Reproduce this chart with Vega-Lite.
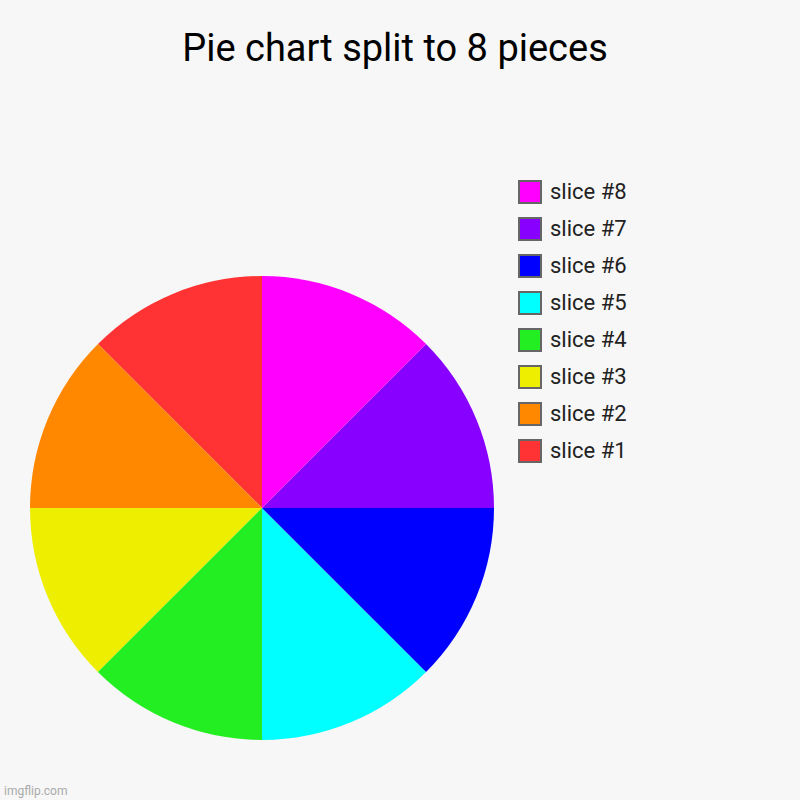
{
  "$schema": "https://vega.github.io/schema/vega-lite/v6.json",
  "width": 464,
  "height": 464,
  "autosize": "none",
  "padding": {"left": 30, "top": 276, "right": 306, "bottom": 60},
  "background": "#f7f7f7",
  "config": {"view": {"stroke": null}, "font": "Roboto"},
  "title": {
    "text": "Pie chart split to 8 pieces",
    "font": "Roboto",
    "fontSize": 38,
    "fontWeight": "normal",
    "color": "#000000",
    "anchor": "middle",
    "frame": "group",
    "dx": 133,
    "offset": 111
  },
  "data": {
    "values": [
      {"slice": "slice #1", "n": 1, "value": 1},
      {"slice": "slice #2", "n": 2, "value": 1},
      {"slice": "slice #3", "n": 3, "value": 1},
      {"slice": "slice #4", "n": 4, "value": 1},
      {"slice": "slice #5", "n": 5, "value": 1},
      {"slice": "slice #6", "n": 6, "value": 1},
      {"slice": "slice #7", "n": 7, "value": 1},
      {"slice": "slice #8", "n": 8, "value": 1}
    ]
  },
  "layer": [
    {
      "mark": {"type": "arc", "stroke": null},
      "encoding": {
        "theta": {"field": "value", "type": "quantitative", "stack": true},
        "order": {"field": "n", "type": "quantitative", "sort": "descending"},
        "color": {
          "field": "slice",
          "type": "nominal",
          "scale": {
            "domain": ["slice #8", "slice #7", "slice #6", "slice #5", "slice #4", "slice #3", "slice #2", "slice #1"],
            "range": ["#ff00ff", "#8800ff", "#0000ff", "#00ffff", "#22ee22", "#eeee00", "#ff8800", "#ff3333"]
          },
          "legend": {
            "title": null,
            "orient": "none",
            "legendX": 488,
            "legendY": -96,
            "symbolType": "square",
            "symbolSize": 484,
            "symbolStrokeColor": "#666666",
            "symbolStrokeWidth": 2,
            "symbolOpacity": 1,
            "labelFont": "Roboto",
            "labelFontSize": 22,
            "labelColor": "#222222",
            "labelOffset": 8,
            "rowPadding": 7
          }
        }
      }
    },
    {
      "data": {"values": [{"label": "imgflip.com"}]},
      "mark": {"type": "text", "align": "left", "baseline": "alphabetic", "fontSize": 12, "color": "#aaaaaa", "font": "Roboto"},
      "encoding": {
        "text": {"field": "label"},
        "x": {"value": -26},
        "y": {"value": 519}
      }
    }
  ]
}
